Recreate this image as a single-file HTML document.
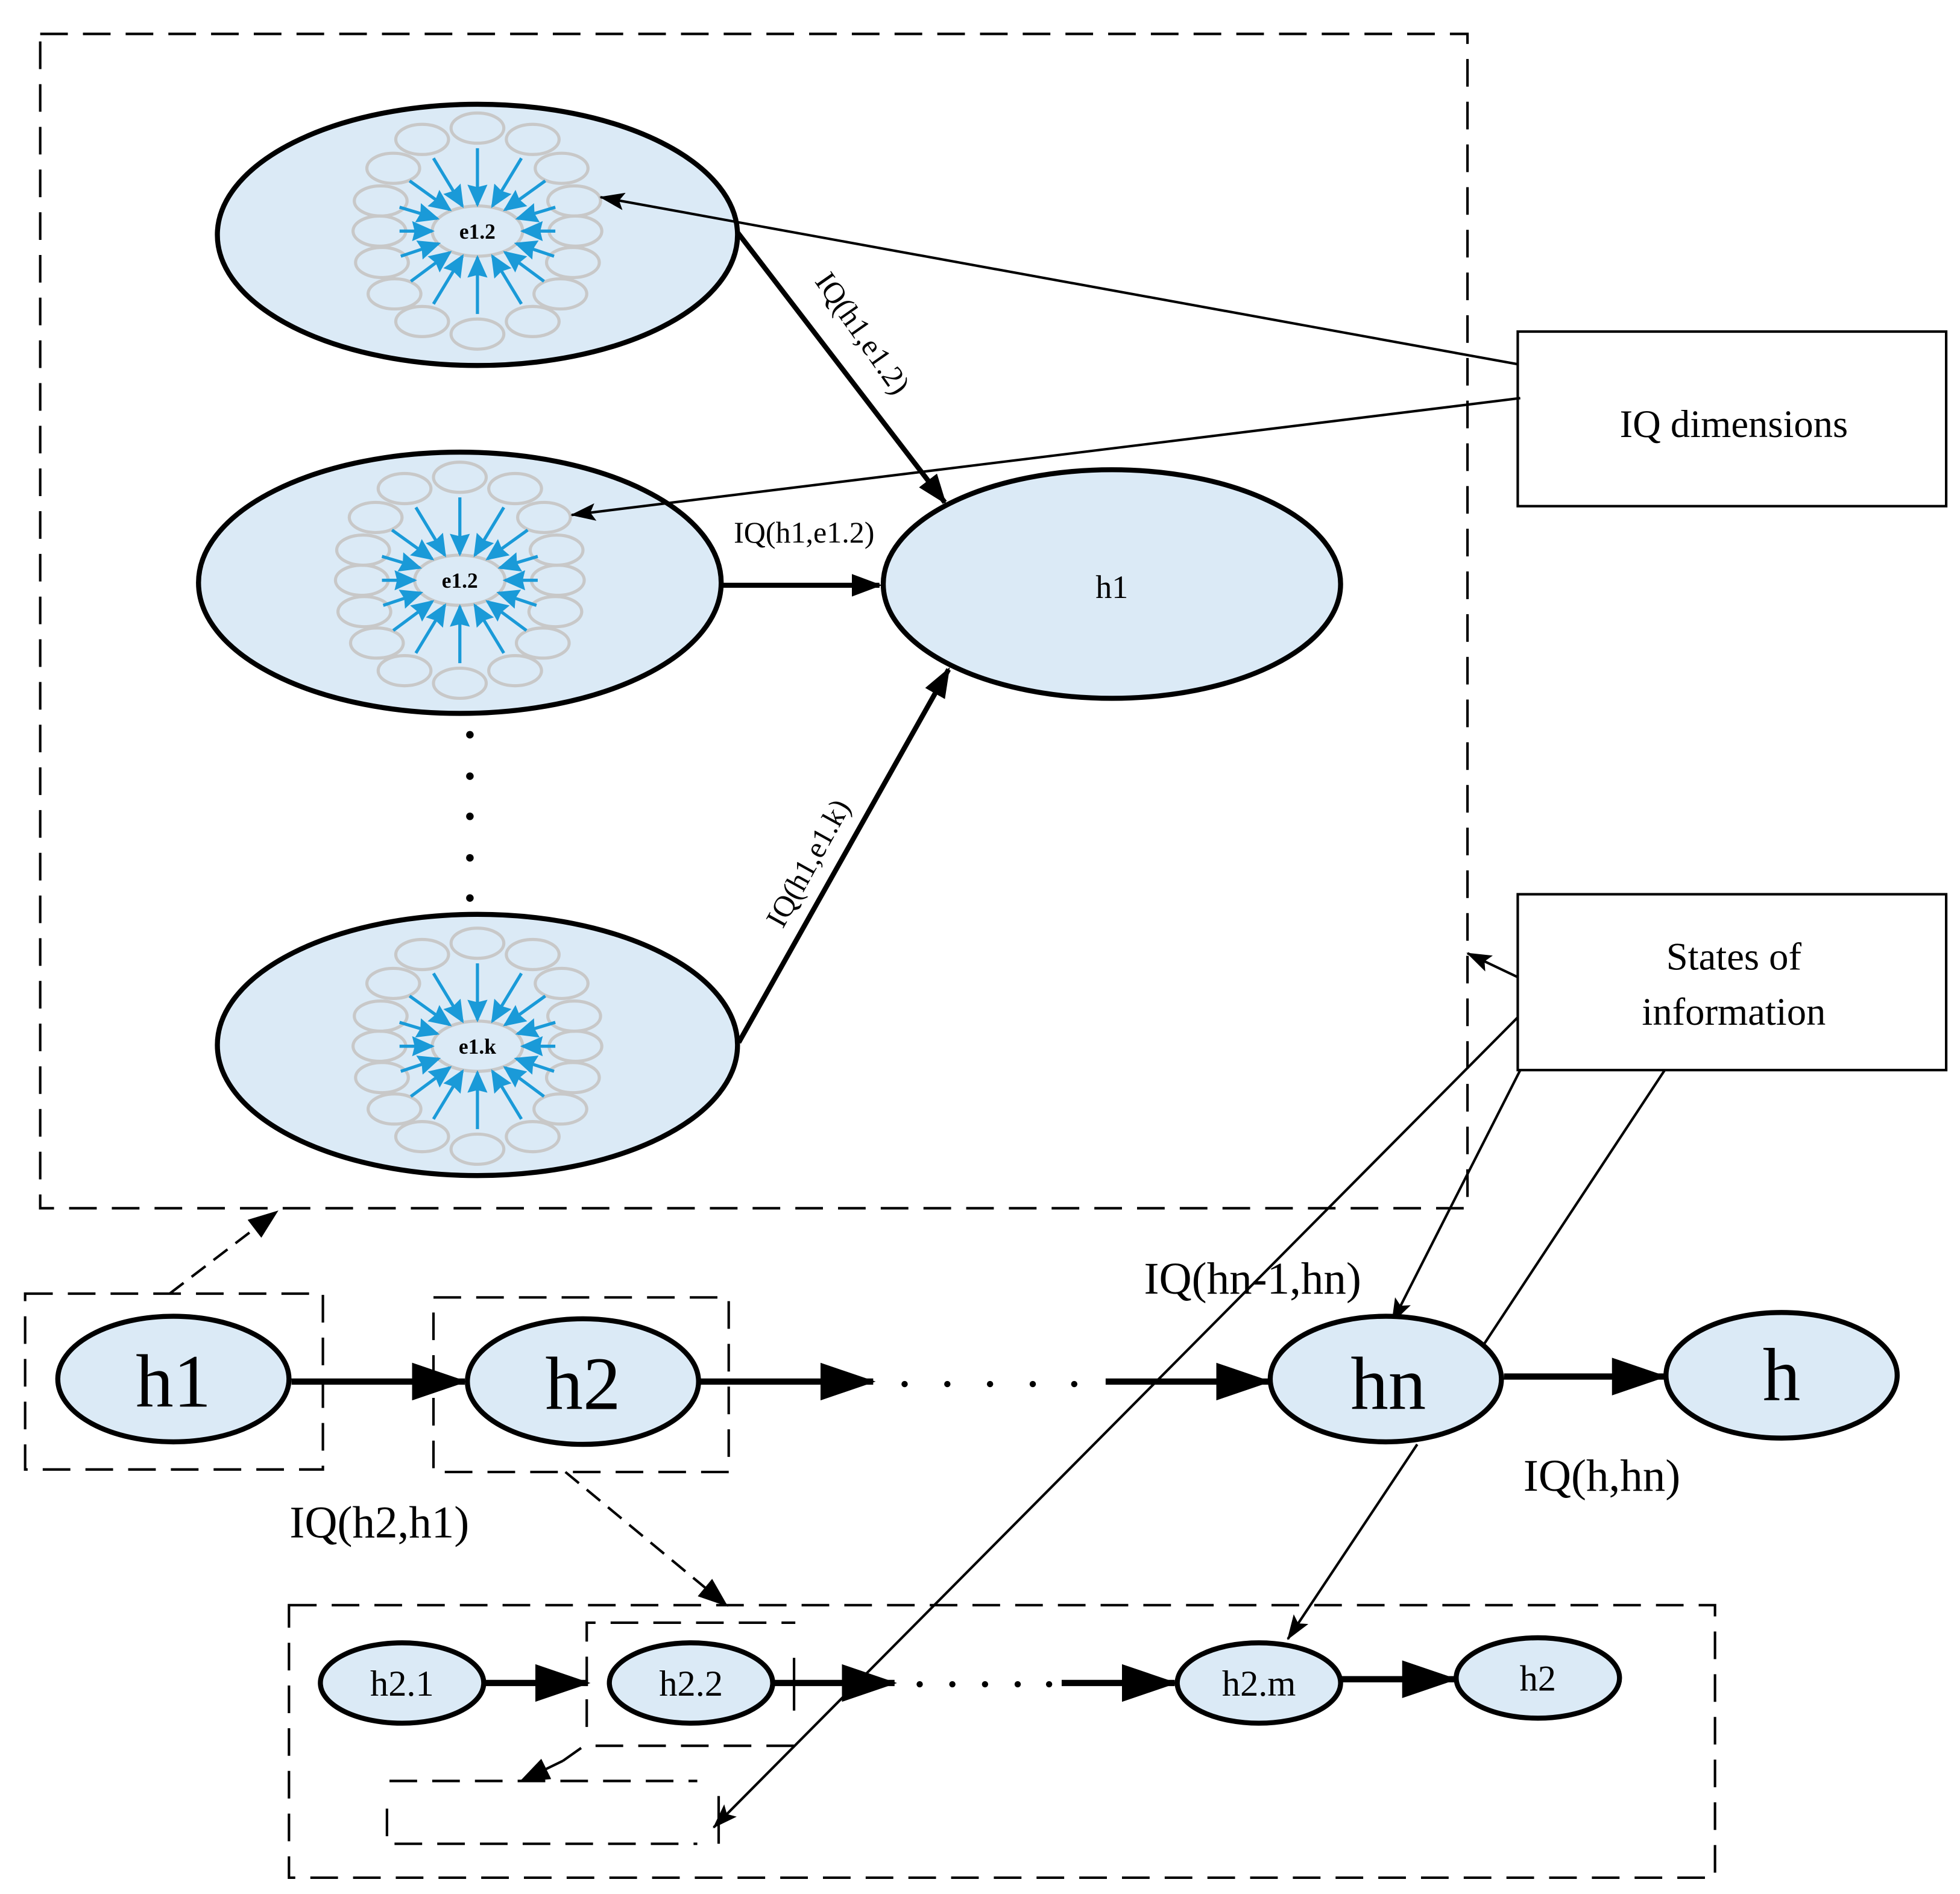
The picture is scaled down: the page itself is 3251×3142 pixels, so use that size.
<!DOCTYPE html>
<html><head><meta charset="utf-8"><style>
html,body{margin:0;padding:0;background:#fff;}
svg{display:block;}
text{font-family:"Liberation Serif",serif;fill:#000;}
</style></head><body>
<svg width="3251" height="3142" viewBox="0 0 1560 1508" preserveAspectRatio="none" xmlns="http://www.w3.org/2000/svg">
<defs>
<marker id="ab" markerUnits="userSpaceOnUse" markerWidth="18" markerHeight="16" refX="16" refY="8" orient="auto"><path d="M0,0 L18,8 L0,16 L2,8 z" fill="#1a9ad8"/></marker>
<marker id="ak" markerUnits="userSpaceOnUse" markerWidth="44" markerHeight="30" refX="42" refY="15" orient="auto"><path d="M0,0 L44,15 L0,30 z" fill="#000"/></marker>
<marker id="am" markerUnits="userSpaceOnUse" markerWidth="24" markerHeight="18" refX="22" refY="9" orient="auto"><path d="M0,0 L24,9 L0,18 z" fill="#000"/></marker>
<marker id="at" markerUnits="userSpaceOnUse" markerWidth="20" markerHeight="14" refX="19" refY="7" orient="auto"><path d="M0,0 L20,7 L0,14 L4,7 z" fill="#000"/></marker>
<g id="fl">
 <g fill="none" stroke="#c8c8c8" stroke-width="2.5">
  <ellipse cx="0" cy="-82" rx="21" ry="12"/><ellipse cx="-44" cy="-73" rx="21" ry="12"/><ellipse cx="44" cy="-73" rx="21" ry="12"/>
  <ellipse cx="-67" cy="-50" rx="21" ry="12"/><ellipse cx="67" cy="-50" rx="21" ry="12"/>
  <ellipse cx="-77" cy="-24" rx="21" ry="12"/><ellipse cx="77" cy="-24" rx="21" ry="12"/>
  <ellipse cx="-78" cy="0" rx="21" ry="12"/><ellipse cx="78" cy="0" rx="21" ry="12"/>
  <ellipse cx="-76" cy="25" rx="21" ry="12"/><ellipse cx="76" cy="25" rx="21" ry="12"/>
  <ellipse cx="-66" cy="50" rx="21" ry="12"/><ellipse cx="66" cy="50" rx="21" ry="12"/>
  <ellipse cx="-44" cy="72" rx="21" ry="12"/><ellipse cx="44" cy="72" rx="21" ry="12"/>
  <ellipse cx="0" cy="82" rx="21" ry="12"/>
  <ellipse cx="0" cy="0" rx="36" ry="20" fill="#dbeaf6"/>
 </g>
 <g stroke="#1a9ad8" stroke-width="2.5" marker-end="url(#ab)">
  <line x1="0" y1="-66" x2="0" y2="-21"/><line x1="-35" y1="-58" x2="-12" y2="-20"/><line x1="35" y1="-58" x2="12" y2="-20"/>
  <line x1="-54" y1="-40" x2="-22" y2="-17"/><line x1="54" y1="-40" x2="22" y2="-17"/>
  <line x1="-62" y1="-19" x2="-32" y2="-10"/><line x1="62" y1="-19" x2="32" y2="-10"/>
  <line x1="-62" y1="0" x2="-36" y2="0"/><line x1="62" y1="0" x2="36" y2="0"/>
  <line x1="-61" y1="20" x2="-31" y2="10"/><line x1="61" y1="20" x2="31" y2="10"/>
  <line x1="-53" y1="40" x2="-22" y2="17"/><line x1="53" y1="40" x2="22" y2="17"/>
  <line x1="-35" y1="58" x2="-12" y2="20"/><line x1="35" y1="58" x2="12" y2="20"/>
  <line x1="0" y1="66" x2="0" y2="21"/>
 </g>
</g>
</defs>

<rect x="32" y="27" width="1136" height="935" fill="none" stroke="#000" stroke-width="2" stroke-dasharray="22,12"/>

<ellipse cx="380" cy="187" rx="207" ry="104" fill="#dbeaf6" stroke="#000" stroke-width="4"/>
<ellipse cx="366" cy="464" rx="208" ry="104" fill="#dbeaf6" stroke="#000" stroke-width="4"/>
<ellipse cx="380" cy="832" rx="207" ry="104" fill="#dbeaf6" stroke="#000" stroke-width="4"/>
<use href="#fl" x="380" y="184"/>
<use href="#fl" x="366" y="462"/>
<use href="#fl" x="380" y="833"/>
<text x="380" y="190" font-size="17" font-weight="bold" text-anchor="middle">e1.2</text>
<text x="366" y="468" font-size="17" font-weight="bold" text-anchor="middle">e1.2</text>
<text x="380" y="839" font-size="17" font-weight="bold" text-anchor="middle">e1.k</text>

<ellipse cx="885" cy="465" rx="182" ry="91" fill="#dbeaf6" stroke="#000" stroke-width="4"/>
<text x="885" y="476" font-size="26" text-anchor="middle">h1</text>

<g stroke="#000" stroke-width="4" marker-end="url(#am)">
<line x1="587" y1="185" x2="752" y2="400"/>
<line x1="574" y1="466" x2="700" y2="466"/>
<line x1="588" y1="830" x2="755" y2="533"/>
</g>
<text font-size="24" transform="translate(648,224) rotate(55)">IQ(h1,e1.2)</text>
<text x="640" y="432" font-size="24" text-anchor="middle">IQ(h1,e1.2)</text>
<text font-size="24" transform="translate(623,740) rotate(-61)">IQ(h1,e1.k)</text>

<g fill="#000"><circle cx="374" cy="585" r="3"/><circle cx="374" cy="618" r="3"/><circle cx="374" cy="650" r="3"/><circle cx="374" cy="683" r="3"/><circle cx="374" cy="715" r="3"/></g>

<rect x="1208" y="264" width="341" height="139" fill="#fff" stroke="#000" stroke-width="2"/>
<text x="1380" y="348" font-size="31" text-anchor="middle">IQ dimensions</text>
<rect x="1208" y="712" width="341" height="140" fill="#fff" stroke="#000" stroke-width="2"/>
<text x="1380" y="772" font-size="31" text-anchor="middle">States of</text>
<text x="1380" y="816" font-size="31" text-anchor="middle">information</text>

<g stroke="#000" stroke-width="2" fill="none" marker-end="url(#at)">
<line x1="1208" y1="290" x2="478" y2="157"/>
<line x1="1210" y1="317" x2="455" y2="410"/>
<line x1="1208" y1="778" x2="1168" y2="759"/>
<line x1="1208" y1="810" x2="568" y2="1455"/>
<line x1="1210" y1="852" x2="1108" y2="1053"/>
<line x1="1128" y1="1150" x2="1025" y2="1305"/>
</g>
<line x1="1325" y1="852" x2="1180" y2="1072" stroke="#000" stroke-width="2"/>

<rect x="20" y="1030" width="237" height="140" fill="none" stroke="#000" stroke-width="2" stroke-dasharray="22,12"/>
<rect x="345" y="1033" width="235" height="139" fill="none" stroke="#000" stroke-width="2" stroke-dasharray="22,12"/>
<line x1="135" y1="1030" x2="220" y2="965" stroke="#000" stroke-width="2" stroke-dasharray="14,8" marker-end="url(#am)"/>
<line x1="450" y1="1172" x2="578" y2="1278" stroke="#000" stroke-width="2" stroke-dasharray="14,8" marker-end="url(#am)"/>

<g stroke="#000" stroke-width="5" marker-end="url(#ak)">
<line x1="232" y1="1100" x2="370" y2="1100"/>
<line x1="557" y1="1100" x2="695" y2="1100"/>
<line x1="880" y1="1100" x2="1010" y2="1100"/>
<line x1="1197" y1="1096" x2="1325" y2="1096"/>
</g>
<g fill="#000"><circle cx="720" cy="1102" r="2.5"/><circle cx="754" cy="1102" r="2.5"/><circle cx="788" cy="1102" r="2.5"/><circle cx="822" cy="1102" r="2.5"/><circle cx="855" cy="1102" r="2.5"/></g>

<g fill="#dbeaf6" stroke="#000" stroke-width="4">
<ellipse cx="138" cy="1098" rx="92" ry="50"/>
<ellipse cx="464" cy="1100" rx="92" ry="50"/>
<ellipse cx="1103" cy="1098" rx="92" ry="50"/>
<ellipse cx="1418" cy="1095" rx="92" ry="50"/>
</g>
<text x="138" y="1120" font-size="60" text-anchor="middle">h1</text>
<text x="464" y="1122" font-size="60" text-anchor="middle">h2</text>
<text x="1105" y="1122" font-size="60" text-anchor="middle">hn</text>
<text x="1418" y="1115" font-size="60" text-anchor="middle">h</text>
<text x="997" y="1030" font-size="36" text-anchor="middle">IQ(hn-1,hn)</text>
<text x="302" y="1224" font-size="36" text-anchor="middle">IQ(h2,h1)</text>
<text x="1275" y="1187" font-size="36" text-anchor="middle">IQ(h,hn)</text>

<rect x="230" y="1278" width="1135" height="217" fill="none" stroke="#000" stroke-width="2" stroke-dasharray="22,12"/>
<path d="M467,1375 L467,1292 L633,1292" fill="none" stroke="#000" stroke-width="2" stroke-dasharray="22,12"/>
<line x1="632" y1="1320" x2="632" y2="1362" stroke="#000" stroke-width="2"/>
<path d="M632,1390 L465,1390 L448,1402" fill="none" stroke="#000" stroke-width="2" stroke-dasharray="22,12"/>
<line x1="448" y1="1402" x2="415" y2="1418" stroke="#000" stroke-width="2" marker-end="url(#am)"/>
<path d="M310,1418 L555,1418" fill="none" stroke="#000" stroke-width="2" stroke-dasharray="22,12"/>
<path d="M308,1440 L308,1468 L555,1468" fill="none" stroke="#000" stroke-width="2" stroke-dasharray="22,12"/>
<line x1="572" y1="1430" x2="572" y2="1468" stroke="#000" stroke-width="2"/>

<g stroke="#000" stroke-width="5" marker-end="url(#ak)">
<line x1="385" y1="1340" x2="468" y2="1340"/>
<line x1="615" y1="1340" x2="712" y2="1340"/>
<line x1="845" y1="1340" x2="935" y2="1340"/>
<line x1="1068" y1="1337" x2="1158" y2="1337"/>
</g>
<g fill="#000"><circle cx="732" cy="1341" r="2.5"/><circle cx="758" cy="1341" r="2.5"/><circle cx="784" cy="1341" r="2.5"/><circle cx="810" cy="1341" r="2.5"/><circle cx="835" cy="1341" r="2.5"/></g>
<g fill="#dbeaf6" stroke="#000" stroke-width="4">
<ellipse cx="320" cy="1340" rx="65" ry="32"/>
<ellipse cx="550" cy="1340" rx="65" ry="32"/>
<ellipse cx="1002" cy="1340" rx="65" ry="32"/>
<ellipse cx="1224" cy="1336" rx="65" ry="32"/>
</g>
<text x="320" y="1350" font-size="29" text-anchor="middle">h2.1</text>
<text x="550" y="1350" font-size="29" text-anchor="middle">h2.2</text>
<text x="1002" y="1350" font-size="29" text-anchor="middle">h2.m</text>
<text x="1224" y="1346" font-size="29" text-anchor="middle">h2</text>
</svg>
</body></html>
